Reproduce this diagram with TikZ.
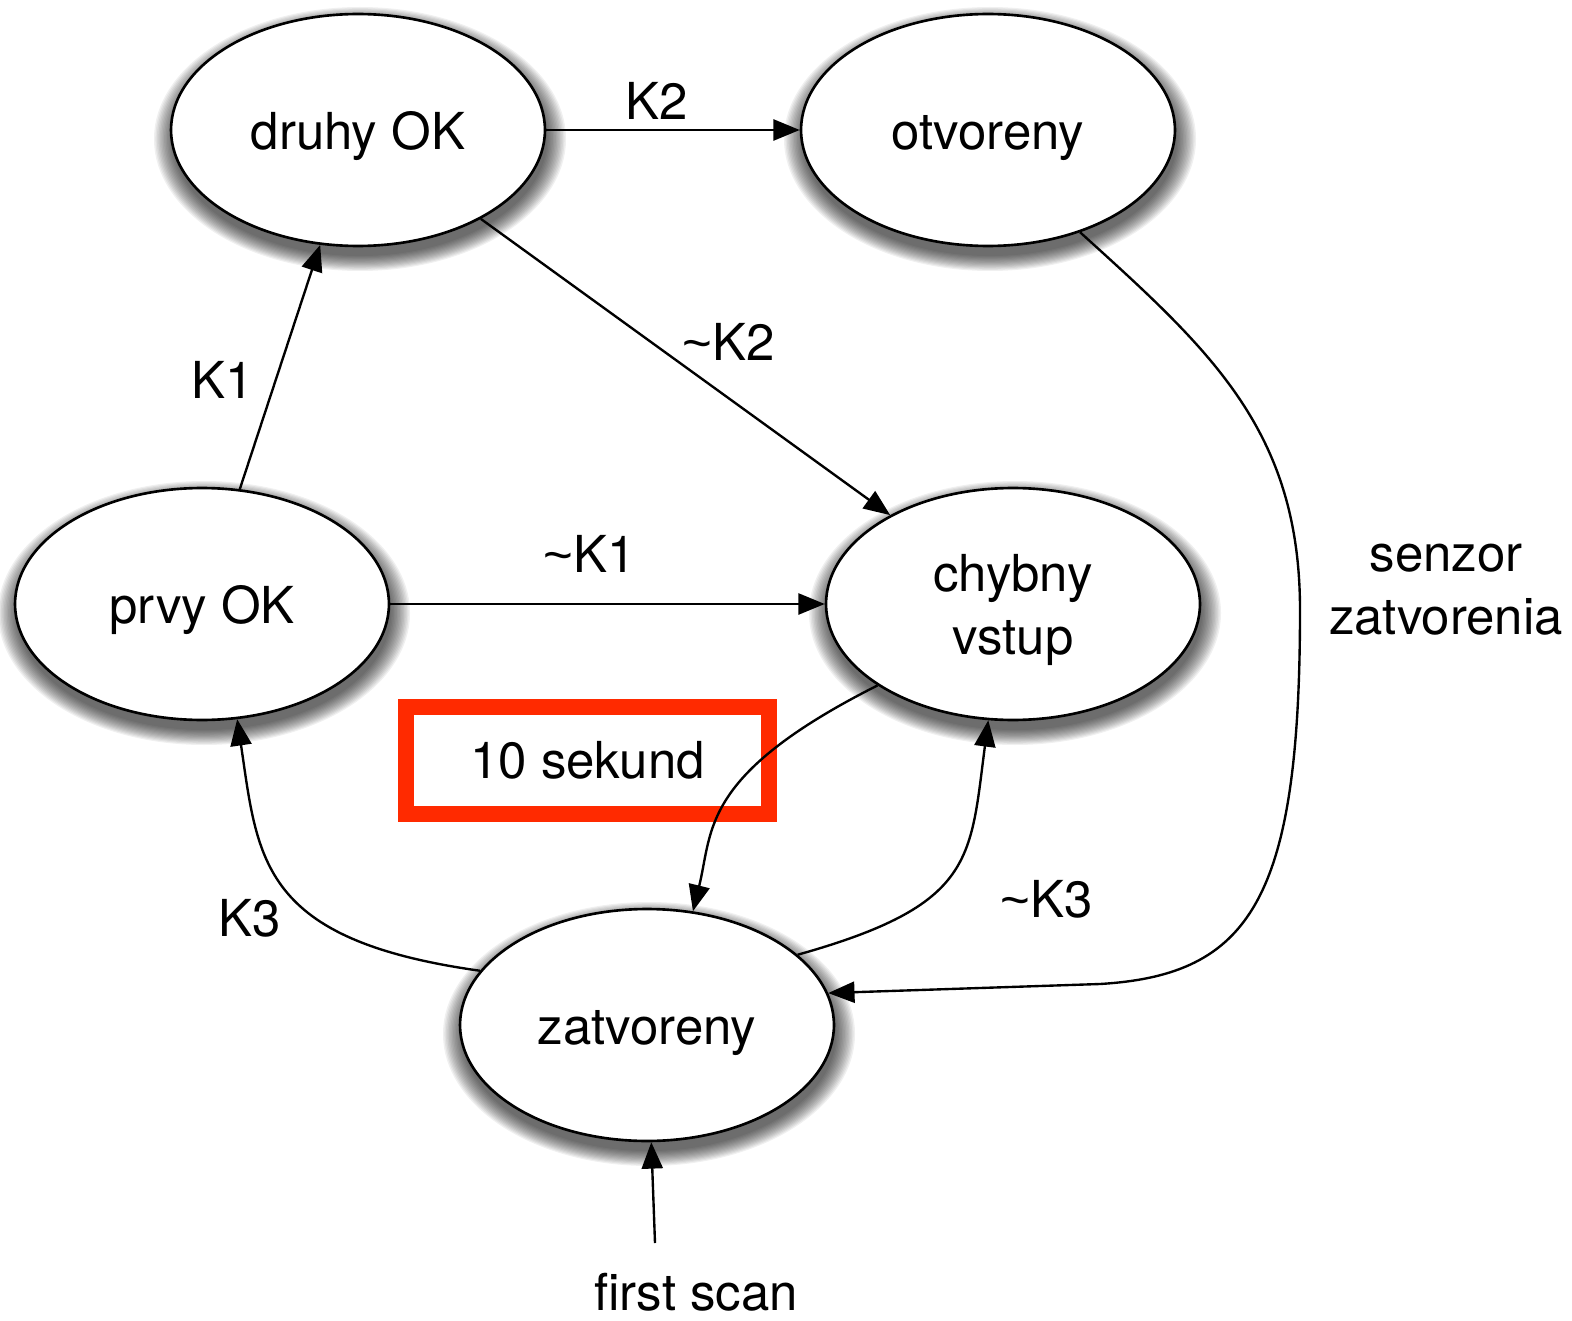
\documentclass[tikz,border=0pt]{standalone}
\usepackage{fontspec}
\setmainfont{TeX Gyre Heros}
\newfontfamily\tildefont{Liberation Sans}
\newcommand{\vlnka}{{\tildefont\symbol{126}}}
\usetikzlibrary{arrows.meta, shapes.geometric}
\definecolor{cStav}{HTML}{000000}
\definecolor{cCas}{HTML}{FF2A00}
\pgfdeclarelayer{bg}
\pgfsetlayers{bg,main}

\begin{document}
\begin{tikzpicture}[
    x=0.02cm, y=-0.02cm, font=\fontsize{29pt}{36pt}\selectfont,
    stav/.style={ellipse, draw=cStav, line width=1.5pt, fill=white,
                 minimum width=7.48cm, minimum height=4.64cm, inner sep=0pt,
                 text height=22.6pt, text depth=0pt},
    casbox/.style={draw=cCas, line width=9pt, minimum width=7.26cm,
                   minimum height=2.14cm, inner sep=0pt},
    trans/.style={-{Triangle[length=15pt, width=12pt]}, line width=1.35pt},
    lbl/.style={anchor=base, inner sep=0pt},
]
\useasboundingbox (0,0) rectangle (1572,1321);

% ===========================================================================
% Stavy
% ===========================================================================
\node[stav] (druhy)     at (358,130)  {druhy OK};
\node[stav] (otvoreny)  at (988,130)  {otvoreny};
\node[stav] (prvy)      at (202,604)  {prvy OK};
\node[stav, label={[align=center, yshift=-3.4pt]center:chybny\\vstup}]
            (chybny)    at (1013,604) {};
\node[stav] (zatvoreny) at (647,1025) {zatvoreny};

% tiene pod stavmi
\begin{pgfonlayer}{bg}
\foreach \n in {druhy, otvoreny, prvy, chybny, zatvoreny} {
    \foreach \k in {0,...,13}
        \fill[black, opacity=0.06] ([shift={(2,9)}]\n.center)
            ellipse [x radius={206-1.45*\k}, y radius={132-1.15*\k}];
}
\end{pgfonlayer}

% ----- casovac -----
\node[casbox] (cas) at (587.5,760.5) {10 sekund};

% ===========================================================================
% Prechody
% ===========================================================================
\draw[trans] (druhy) -- (otvoreny);
\node[lbl] (lK2) at (657,120) {K2};

\draw[trans] (druhy) -- (chybny);
\node[lbl] (lnK2) at (729,360) {\vlnka K2};

\draw[trans] (prvy) -- (druhy);
\node[lbl] (lK1) at (223,398) {K1};

\draw[trans] (prvy) -- (chybny);
\node[lbl] (lnK1) at (590,572) {\vlnka K1};

\draw[trans] (chybny.211) .. controls (700,775) and (713,830) .. (zatvoreny.68);

\draw[trans] (zatvoreny.162) .. controls (260,940) and (258,860) .. (prvy.287);
\node[lbl] (lK3) at (250,936) {K3};

\draw[trans] (zatvoreny.25) .. controls (975,905) and (970,860) .. (chybny.258);
\node[lbl] (lnK3) at (1047,917) {\vlnka K3};

% ----- senzor zatvorenia -----
\draw[trans] (otvoreny.312) .. controls (1210,350) and (1300,430) .. (1300,610)
      .. controls (1300,900) and (1250,975) .. (1100,984) -- (zatvoreny.10);
\node[align=center, inner sep=0pt] (lsenzor) at (1446,590) {senzor\\zatvorenia};

% ----- first scan -----
\coordinate (scan) at (655,1243);
\draw[trans] (scan) -- (zatvoreny);
\node[lbl] (lscan) at (696,1310) {first scan};

\end{tikzpicture}
\end{document}
